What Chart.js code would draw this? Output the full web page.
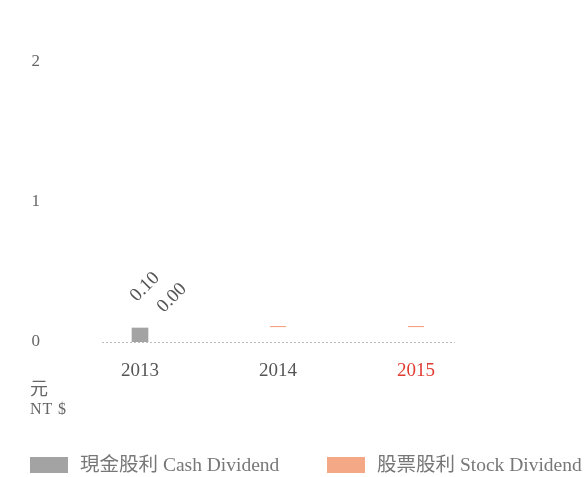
<!DOCTYPE html>
<html>
<head>
<meta charset="utf-8">
<script src="https://cdn.jsdelivr.net/npm/chart.js@4"></script>
<style>
  html, body { margin: 0; padding: 0; background: #fff; overflow: hidden; }
  #wrap { position: relative; width: 586px; height: 477px; }
  #chart { position: absolute; left: 0; top: 0; }
  .unit { position: absolute; left: 30px; font-family: 'Liberation Serif', serif; color: #666; }
  #legend { position: absolute; top: 453px; left: 0; width: 586px; height: 24px;
            font-family: 'Liberation Serif', 'Noto Sans CJK TC', serif; font-size: 19.5px; color: #777; }
  .item { position: absolute; top: 0; height: 24px; line-height: 24px; display: flex; align-items: center; white-space: nowrap; }
  .box { width: 38px; height: 16px; margin-right: 12px; }
</style>
</head>
<body>
<div id="wrap">
  <canvas id="chart" width="586" height="477"></canvas>
  <div class="unit" style="top:374px;font-size:18px;font-family:'Noto Sans CJK TC',serif;">元</div>
  <div class="unit" style="top:400px;font-size:16px;letter-spacing:1px;">NT $</div>
  <div id="legend"></div>
</div>
<script>
const years = ['2013', '2014', '2015'];
const cashDividend = [0.10, null, null];
const stockDividend = [0.00, null, null];
const stockMarks = [null, 0.11, 0.11];
const yTicks = [0, 1, 2];

const GREY = '#a3a3a3';
const ORANGE = '#f4a886';
const TEXT = '#666';

// rotated value labels above the 2013 bars
const valueLabels = {
    id: 'valueLabels',
    afterDatasetsDraw(chart) {
        const ctx = chart.ctx;
        const offsets = [[5, -41], [32, -44]];
        [0, 1].forEach(di => {
            const meta = chart.getDatasetMeta(di);
            meta.data.forEach((bar, i) => {
                const v = chart.data.datasets[di].data[i];
                if (v === null || v === undefined) return;
                ctx.save();
                ctx.translate(bar.x + offsets[di][0], bar.y + offsets[di][1]);
                ctx.rotate(-Math.PI / 4);
                ctx.font = '19px "Liberation Serif", serif';
                ctx.fillStyle = '#555';
                ctx.textAlign = 'center';
                ctx.textBaseline = 'middle';
                ctx.fillText(v.toFixed(2), 0, 0);
                ctx.restore();
            });
        });
    }
};

// dotted baseline at zero
const baseline = {
    id: 'baseline',
    beforeDatasetsDraw(chart) {
        const { ctx, chartArea, scales } = chart;
        const y = Math.round(scales.y.getPixelForValue(0)) + 0.5;
        ctx.save();
        ctx.strokeStyle = '#bbb';
        ctx.lineWidth = 1;
        ctx.setLineDash([2, 2]);
        ctx.beginPath();
        ctx.moveTo(chartArea.left + 31, y);
        ctx.lineTo(chartArea.right - 30, y);
        ctx.stroke();
        ctx.restore();
    }
};

const chart = new Chart(document.getElementById('chart'), {
    type: 'bar',
    data: {
        labels: years,
        datasets: [
            {
                label: '現金股利 Cash Dividend',
                data: cashDividend,
                backgroundColor: GREY,
                barThickness: 16,
                grouped: false,
                order: 1
            },
            {
                label: '股票股利 Stock Dividend',
                data: stockDividend,
                backgroundColor: ORANGE,
                barThickness: 16,
                grouped: false,
                order: 2
            },
            {
                type: 'line',
                label: 'marks',
                data: stockMarks,
                showLine: false,
                pointStyle: 'line',
                pointRadius: 8,
                borderColor: '#f79a72',
                borderWidth: 1,
                order: 0
            }
        ]
    },
    options: {
        responsive: false,
        animation: false,
        events: [],
        layout: { padding: { top: 62, left: 0, right: 101, bottom: 75 } },
        plugins: { legend: { display: false }, tooltip: { enabled: false } },
        scales: {
            x: {
                offset: true,
                grid: { display: false, drawTicks: false },
                border: { display: false },
                afterFit: s => { s.height = 60; },
                ticks: {
                    padding: 18,
                    font: { family: 'Liberation Serif', size: 19 },
                    color: ctx => ctx.index === 2 ? '#e03c31' : '#555'
                }
            },
            y: {
                min: yTicks[0],
                max: yTicks[yTicks.length - 1],
                grid: { display: false, drawTicks: false },
                border: { display: false },
                afterFit: s => { s.width = 71; },
                afterBuildTicks: s => { s.ticks = yTicks.map(v => ({ value: v })); },
                ticks: {
                    padding: 31,
                    font: { family: 'Liberation Serif', size: 17 },
                    color: TEXT
                }
            }
        }
    },
    plugins: [baseline, valueLabels]
});

// legend built from the two dividend datasets
const legend = document.getElementById('legend');
const legendX = [30, 327];
chart.data.datasets.slice(0, 2).forEach((ds, i) => {
    const item = document.createElement('div');
    item.className = 'item';
    item.style.left = legendX[i] + 'px';
    const box = document.createElement('span');
    box.className = 'box';
    box.style.background = ds.backgroundColor;
    const txt = document.createElement('span');
    txt.textContent = ds.label;
    item.appendChild(box);
    item.appendChild(txt);
    legend.appendChild(item);
});
</script>
</body>
</html>
